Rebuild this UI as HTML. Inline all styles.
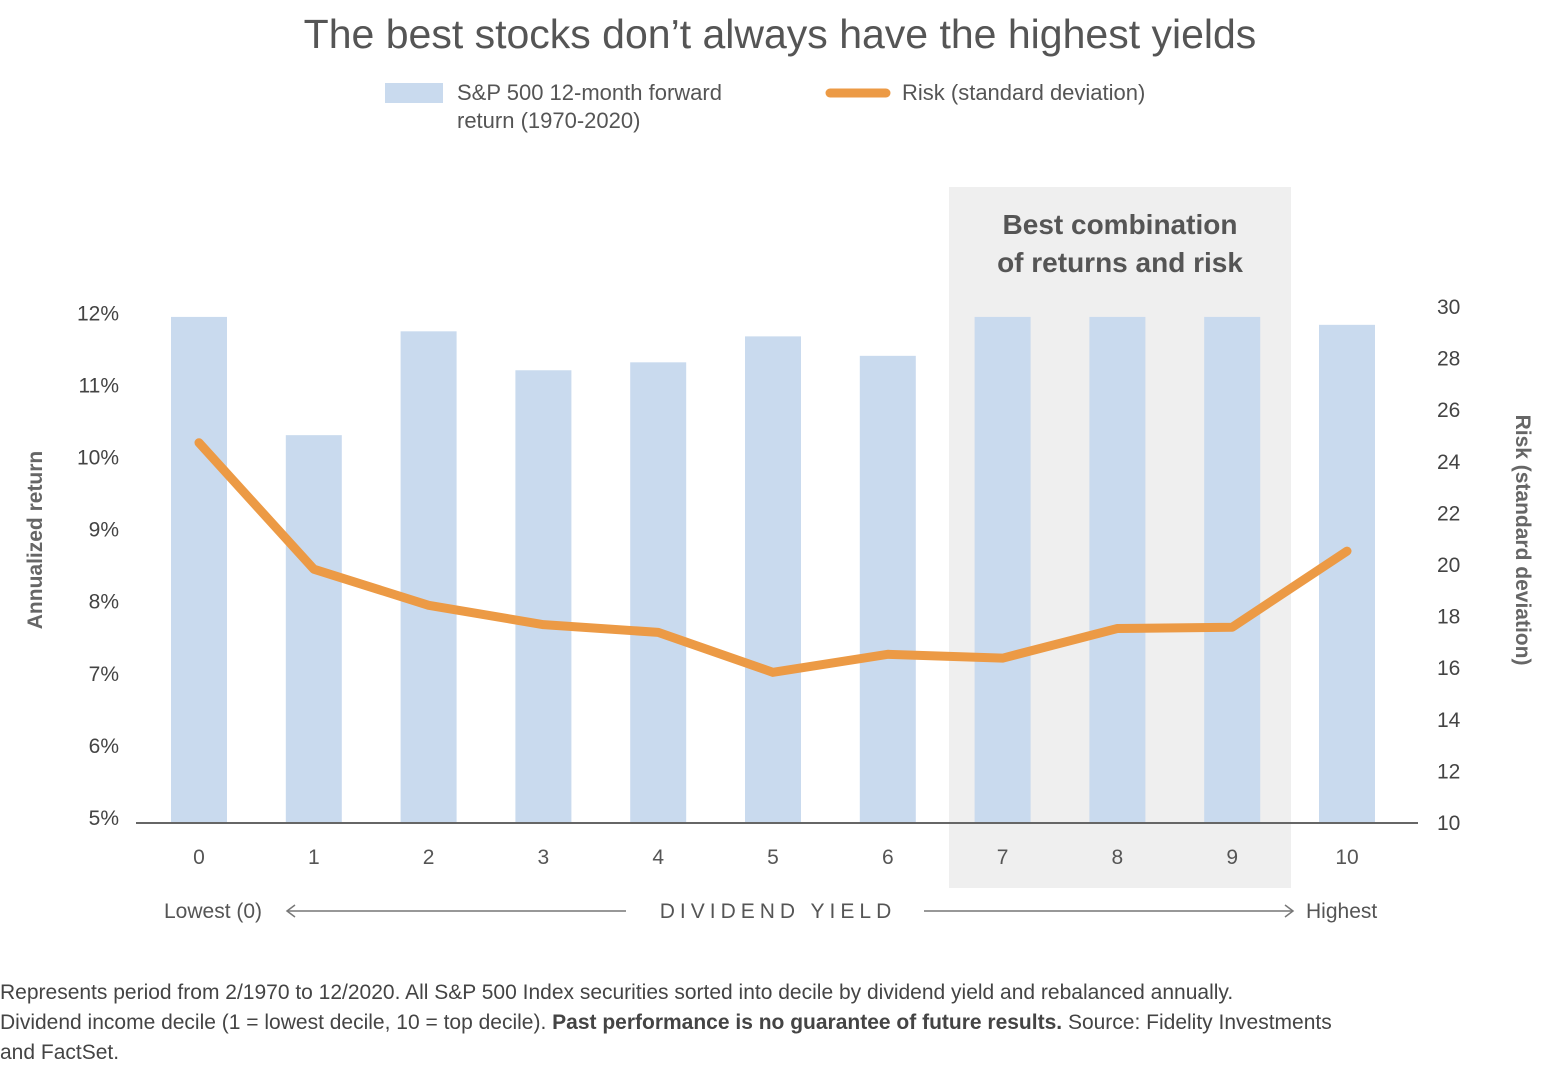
<!DOCTYPE html>
<html><head><meta charset="utf-8"><style>
body{margin:0;background:#fff;}
svg{display:block;font-family:"Liberation Sans",sans-serif;}
.foot{position:absolute;left:0;top:978px;width:1562px;font:21px/30px "Liberation Sans",sans-serif;color:#444;white-space:nowrap;}
</style></head><body>
<svg id="chart" width="1562" height="1074">
<rect x="949" y="187" width="342" height="701" fill="#efefef"/>
<text x="1120" y="234" text-anchor="middle" font-size="28" font-weight="bold" fill="#555">Best combination</text>
<text x="1120" y="272" text-anchor="middle" font-size="28" font-weight="bold" fill="#555">of returns and risk</text>
<text x="780" y="48" text-anchor="middle" font-size="41" fill="#555">The best stocks don’t always have the highest yields</text>
<rect x="385" y="83" width="58" height="20" fill="#c9daee"/>
<text x="457" y="100" font-size="22" fill="#555">S&amp;P 500 12-month forward</text>
<text x="457" y="128" font-size="22" fill="#555">return (1970-2020)</text>
<line x1="830" y1="93" x2="886" y2="93" stroke="#ec9a45" stroke-width="9" stroke-linecap="round"/>
<text x="902" y="100" font-size="22" fill="#555">Risk (standard deviation)</text>
<g id="bars"></g><g id="ticks"></g>
<line x1="136" y1="823" x2="1418" y2="823" stroke="#666" stroke-width="2"/>
<path id="risk" fill="none" stroke="#ec9a45" stroke-width="9" stroke-linejoin="round" stroke-linecap="round"/>
<text transform="translate(42,540) rotate(-90)" text-anchor="middle" font-size="21" font-weight="bold" fill="#666">Annualized return</text>
<text transform="translate(1516,540) rotate(90)" text-anchor="middle" font-size="21" font-weight="bold" fill="#666">Risk (standard deviation)</text>
<text x="164" y="918" font-size="21" fill="#555">Lowest (0)</text>
<line x1="288" y1="911" x2="626" y2="911" stroke="#777" stroke-width="1.5"/>
<path d="M295,905 L287,911 L295,917" fill="none" stroke="#777" stroke-width="1.5"/>
<text x="778" y="918" text-anchor="middle" font-size="21" letter-spacing="5" fill="#555">DIVIDEND YIELD</text>
<line x1="924" y1="911" x2="1292" y2="911" stroke="#777" stroke-width="1.5"/>
<path d="M1285,905 L1293,911 L1285,917" fill="none" stroke="#777" stroke-width="1.5"/>
<text x="1306" y="918" font-size="21" fill="#555">Highest</text>
</svg>
<div class="foot">Represents period from 2/1970 to 12/2020. All S&amp;P 500 Index securities sorted into decile by dividend yield and rebalanced annually.<br>Dividend income decile (1 = lowest decile, 10 = top decile). <b>Past performance is no guarantee of future results.</b> Source: Fidelity Investments<br>and FactSet.</div>
<script>
const categories=["0","1","2","3","4","5","6","7","8","9","10"];
const returns=[11.95,10.31,11.75,11.21,11.32,11.68,11.41,11.95,11.95,11.95,11.84];
const risk=[24.7,19.8,18.4,17.65,17.35,15.8,16.5,16.35,17.5,17.55,20.5];
const leftTicks=[5,6,7,8,9,10,11,12];
const rightTicks=[10,12,14,16,18,20,22,24,26,28,30];
const NS="http://www.w3.org/2000/svg";
const x=i=>199+i*114.8;
const yL=v=>818-(v-5)*72.1;
const yR=v=>822-(v-10)*25.8;
const bars=document.getElementById('bars'),ticks=document.getElementById('ticks');
function mk(t,a,p){const e=document.createElementNS(NS,t);for(const k in a)e.setAttribute(k,a[k]);p.appendChild(e);return e;}
returns.forEach((v,i)=>{const r=mk('rect',{x:x(i)-28,y:yL(v),width:56,height:823-yL(v),fill:'#c9daee'},bars);


const t=mk('text',{x:x(i),y:864,'text-anchor':'middle','font-size':21,fill:'#555'},ticks);t.textContent=categories[i];

});
leftTicks.forEach(v=>{const t=mk('text',{x:119,y:yL(v)+7,'text-anchor':'end','font-size':21,fill:'#444'},ticks);t.textContent=v+'%';

});
rightTicks.forEach(v=>{const t=mk('text',{x:1437,y:yR(v)+8,'font-size':21,fill:'#444'},ticks);t.textContent=v;

});
document.getElementById('risk').setAttribute('d',risk.map((v,i)=>(i?'L':'M')+x(i)+','+yR(v)).join(' '));
</script>
</body></html>
